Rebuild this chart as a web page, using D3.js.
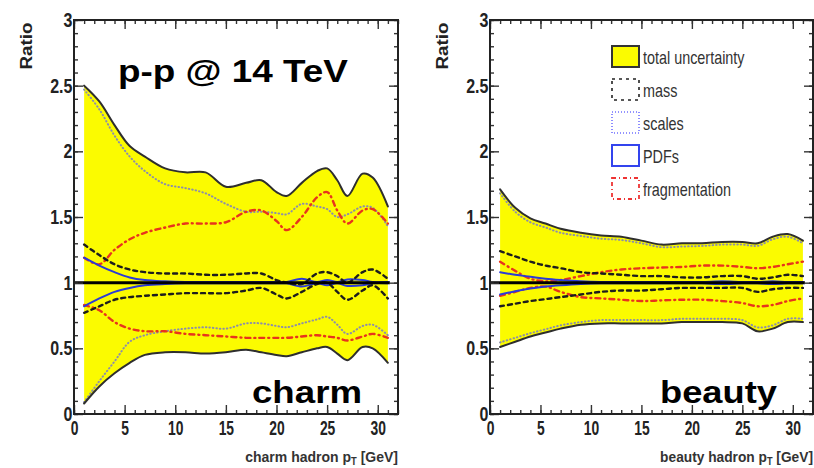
<!DOCTYPE html>
<html><head><meta charset="utf-8">
<script src="https://cdn.jsdelivr.net/npm/d3@7"></script>
<style>
body{margin:0;background:#fff;}
svg{display:block;font-family:"Liberation Sans",Arial,sans-serif;}
</style></head>
<body><svg id="c" width="814" height="468"></svg>
<script>
// ---------------- data ----------------
const charmPt   = [1, 2.5, 4, 5.5, 7, 9, 11, 13, 15, 17, 18.5, 20, 21, 22.5, 24, 25, 26, 27, 28.5, 29.5, 31];
const charmTotHi = [2.50,2.38,2.20,2.04,1.96,1.87,1.84,1.84,1.73,1.76,1.78,1.69,1.66,1.76,1.85,1.87,1.78,1.66,1.83,1.80,1.58];
const charmTotLo = [0.08,0.21,0.31,0.39,0.45,0.47,0.47,0.46,0.47,0.49,0.47,0.45,0.44,0.47,0.50,0.51,0.46,0.41,0.51,0.50,0.39];
const charmScHi  = [2.47,2.32,2.12,1.96,1.85,1.75,1.72,1.68,1.60,1.54,1.54,1.53,1.52,1.60,1.58,1.56,1.50,1.52,1.58,1.57,1.43];
const charmScLo  = [0.09,0.25,0.40,0.55,0.60,0.63,0.65,0.66,0.65,0.69,0.69,0.67,0.66,0.69,0.72,0.74,0.68,0.61,0.67,0.68,0.60];
const charmFrHi  = [1.19,1.14,1.25,1.33,1.38,1.42,1.45,1.45,1.46,1.54,1.55,1.47,1.40,1.50,1.65,1.69,1.55,1.45,1.55,1.56,1.45];
const charmFrLo  = [0.83,0.79,0.70,0.65,0.63,0.63,0.61,0.60,0.59,0.58,0.58,0.58,0.58,0.59,0.60,0.59,0.58,0.56,0.59,0.61,0.58];
const charmMaHi  = [1.29,1.21,1.14,1.10,1.08,1.07,1.07,1.06,1.06,1.07,1.07,1.02,1.00,0.99,1.07,1.08,1.05,1.00,1.08,1.10,1.03];
const charmMaLo  = [0.77,0.82,0.87,0.89,0.90,0.91,0.92,0.92,0.92,0.94,0.96,0.91,0.88,0.93,0.99,1.00,0.93,0.87,0.94,0.98,0.88];
const charmPdHi  = [1.19,1.13,1.08,1.04,1.02,1.01,1.005,1.005,1.005,1.005,1.005,1.005,1.005,1.03,1.005,1.02,1.005,1.025,1.02,1.005,1.005];
const charmPdLo  = [0.82,0.88,0.93,0.96,0.98,0.99,0.995,0.995,0.995,0.995,0.995,0.995,0.995,0.97,0.995,0.98,0.995,0.975,0.98,0.995,0.995];

const beautyPt    = [1, 2.5, 4, 5.5, 7, 9, 11, 13, 15, 17, 19, 21, 23, 25, 26.5, 28, 29.5, 31];
const beautyTotHi = [1.71,1.57,1.49,1.45,1.41,1.38,1.36,1.35,1.32,1.29,1.30,1.30,1.31,1.31,1.30,1.35,1.37,1.32];
const beautyTotLo = [0.51,0.55,0.59,0.62,0.65,0.68,0.69,0.69,0.69,0.69,0.70,0.70,0.70,0.69,0.63,0.65,0.70,0.70];
const beautyScHi  = [1.68,1.54,1.46,1.42,1.38,1.355,1.335,1.325,1.30,1.27,1.275,1.28,1.29,1.29,1.28,1.33,1.35,1.30];
const beautyScLo  = [0.545,0.58,0.615,0.645,0.675,0.70,0.715,0.715,0.715,0.715,0.725,0.725,0.725,0.715,0.66,0.675,0.725,0.725];
const beautyFrHi  = [1.16,1.09,1.03,1.01,1.02,1.05,1.08,1.10,1.11,1.115,1.12,1.13,1.13,1.12,1.11,1.12,1.14,1.16];
const beautyFrLo  = [0.90,0.93,0.96,0.97,0.93,0.89,0.88,0.87,0.86,0.865,0.87,0.87,0.86,0.845,0.82,0.83,0.86,0.88];
const beautyMaHi  = [1.24,1.20,1.16,1.13,1.11,1.08,1.07,1.06,1.05,1.05,1.04,1.04,1.05,1.05,1.03,1.04,1.06,1.05];
const beautyMaLo  = [0.82,0.84,0.86,0.875,0.89,0.91,0.93,0.94,0.94,0.95,0.96,0.96,0.96,0.96,0.93,0.95,0.96,0.96];
const beautyPdHi  = [1.08,1.06,1.045,1.03,1.02,1.01,1.005,1.005,1.005,1.005,1.005,1.005,1.01,1.005,1.005,1.01,1.005,1.005];
const beautyPdLo  = [0.91,0.935,0.955,0.97,0.98,0.99,0.995,0.995,0.995,0.995,0.995,0.995,0.99,0.995,0.995,0.99,0.995,0.995];

const xDomain = [0, 32];
const yDomain = [0, 3];
const xTicks = [0, 5, 10, 15, 20, 25, 30];
const yTicks = [0, 0.5, 1, 1.5, 2, 2.5, 3];
const yTickLabels = ["0", "0.5", "1", "1.5", "2", "2.5", "3"];
const refRatio = 1;
const refLineEnd = 31.2;

const legendLabels = ["total uncertainty", "mass", "scales", "PDFs", "fragmentation"];
const panelLabels = ["charm", "beauty"];
const xTitles = ["charm hadron p", "beauty hadron p"];

// ---------------- drawing ----------------
const svg = d3.select("#c");
const COL = {
  yellow: "#fbfb00", tot: "#2e2e2e", sc: "#8d8fa8", fr: "#e8341c", ma: "#1d1d1d", pd: "#2b3bd6"
};

function fitText(sel, width) {
  const L = sel.node().getComputedTextLength();
  return width / L;
}

function panel(xRange, d, label, xTitle, labelPos) {
  const x = d3.scaleLinear().domain(xDomain).range(xRange);
  const y = d3.scaleLinear().domain(yDomain).range([414, 20]);
  const g = svg.append("g");
  const idx = d.pt.map((p, i) => i);
  const curve = d3.curveCatmullRom.alpha(0.5);

  g.append("path")
    .attr("d", d3.area().x(i => x(d.pt[i])).y0(i => y(d.lo[i])).y1(i => y(d.hi[i])).curve(curve)(idx))
    .attr("fill", COL.yellow);

  const line = arr => d3.line().x((v, i) => x(d.pt[i])).y(v => y(v)).curve(curve)(arr);
  const draw = (arr, color, w, dash) => g.append("path").attr("d", line(arr))
      .attr("fill", "none").attr("stroke", color).attr("stroke-width", w)
      .attr("stroke-dasharray", dash || null).attr("stroke-linecap", "round");

  draw(d.scHi, COL.sc, 2, "0.5,3");
  draw(d.scLo, COL.sc, 2, "0.5,3");
  draw(d.frHi, COL.fr, 2.4, "5,4,1,4");
  draw(d.frLo, COL.fr, 2.4, "5,4,1,4");
  draw(d.pdHi, COL.pd, 2, null);
  draw(d.pdLo, COL.pd, 2, null);
  draw(d.maHi, COL.ma, 2.4, "4,4");
  draw(d.maLo, COL.ma, 2.4, "4,4");
  draw(d.hi, COL.tot, 2, null);
  draw(d.lo, COL.tot, 2, null);

  g.append("line").attr("x1", x(0)).attr("x2", x(refLineEnd))
    .attr("y1", y(refRatio)).attr("y2", y(refRatio))
    .attr("stroke", "#000").attr("stroke-width", 3);

  // axes (ticks inward, ROOT style)
  const styleAx = s => { s.select(".domain").remove(); s.selectAll("line").attr("stroke", "#333").attr("stroke-width", 1.4); };
  const minorX = d3.range(0, 33, 1), minorY = d3.range(0, 3.001, 0.1);
  g.append("g").attr("transform", "translate(0,414)").call(d3.axisBottom(x).tickValues(minorX).tickSize(-4).tickFormat("")).call(styleAx);
  g.append("g").attr("transform", "translate(0,20)").call(d3.axisTop(x).tickValues(minorX).tickSize(-4).tickFormat("")).call(styleAx);
  g.append("g").attr("transform", `translate(${xRange[0]},0)`).call(d3.axisLeft(y).tickValues(minorY).tickSize(-4).tickFormat("")).call(styleAx);
  g.append("g").attr("transform", `translate(${xRange[1]},0)`).call(d3.axisRight(y).tickValues(minorY).tickSize(-4).tickFormat("")).call(styleAx);
  g.append("g").attr("transform", "translate(0,20)").call(d3.axisTop(x).tickValues(xTicks).tickSize(-9).tickFormat("")).call(styleAx);
  g.append("g").attr("transform", `translate(${xRange[1]},0)`).call(d3.axisRight(y).tickValues(yTicks).tickSize(-9).tickFormat("")).call(styleAx);

  const bx = g.append("g").attr("transform", "translate(0,414)")
    .call(d3.axisBottom(x).tickValues(xTicks).tickSize(-9).tickPadding(6)).call(styleAx);
  bx.selectAll("text").attr("font-size", 21).attr("font-weight", "bold").attr("fill", "#222")
    .attr("font-family", "Liberation Sans, Arial, sans-serif").attr("transform", "scale(0.66,1)");
  const ly = g.append("g").attr("transform", `translate(${xRange[0]},0)`)
    .call(d3.axisLeft(y).tickValues(yTicks).tickSize(-9).tickPadding(2)
      .tickFormat((v, i) => yTickLabels[i])).call(styleAx);
  ly.selectAll("text").attr("font-size", 20).attr("font-weight", "bold").attr("fill", "#222")
    .attr("font-family", "Liberation Sans, Arial, sans-serif").attr("transform", "scale(0.8,1)");

  g.append("rect").attr("x", xRange[0]).attr("y", 20).attr("width", xRange[1] - xRange[0]).attr("height", 394)
    .attr("fill", "none").attr("stroke", "#222").attr("stroke-width", 2);

  // Ratio label
  const rx = xRange[0] - 42;
  const rt = g.append("text").attr("text-anchor", "middle").attr("font-size", 16).attr("font-weight", "bold")
    .attr("fill", "#222").text("Ratio");
  rt.attr("transform", `translate(${rx},46) rotate(-90) scale(${fitText(rt, 47)},1)`);

  // x title
  const xt = g.append("text").attr("text-anchor", "end").attr("font-size", 15).attr("font-weight", "bold").attr("fill", "#333");
  xt.append("tspan").text(xTitle);
  xt.append("tspan").attr("font-size", 10).attr("dy", 3).text("T");
  xt.append("tspan").attr("dy", -3).text(" [GeV]");
  xt.attr("transform", `translate(${xRange[1]},462) scale(${fitText(xt, 153)},1)`);

  // big label
  const bl = g.append("text").attr("font-size", 32).attr("font-weight", "bold").attr("fill", "#000").text(label);
  bl.attr("transform", `translate(${labelPos[0]},${labelPos[1]}) scale(${fitText(bl, labelPos[2])},1)`);
  return {x, y, g};
}

panel([74, 398], {pt: charmPt, hi: charmTotHi, lo: charmTotLo, scHi: charmScHi, scLo: charmScLo,
  frHi: charmFrHi, frLo: charmFrLo, maHi: charmMaHi, maLo: charmMaLo, pdHi: charmPdHi, pdLo: charmPdLo},
  panelLabels[0], xTitles[0], [252, 403, 110]);

panel([490, 813], {pt: beautyPt, hi: beautyTotHi, lo: beautyTotLo, scHi: beautyScHi, scLo: beautyScLo,
  frHi: beautyFrHi, frLo: beautyFrLo, maHi: beautyMaHi, maLo: beautyMaLo, pdHi: beautyPdHi, pdLo: beautyPdLo},
  panelLabels[1], xTitles[1], [660, 403, 117]);

// title
const tt = svg.append("text").attr("font-size", 31).attr("font-weight", "bold").attr("fill", "#000").text("p-p @ 14 TeV");
tt.attr("transform", `translate(118,82) scale(${fitText(tt, 230)},1)`);

// legend
const lg = svg.append("g");
const boxStyles = [
  {fill: COL.yellow, stroke: "#333", w: 2, dash: null},
  {fill: "none", stroke: "#222", w: 1.6, dash: "3,4"},
  {fill: "none", stroke: "#7070ff", w: 1.6, dash: "1,2"},
  {fill: "none", stroke: "#3344ee", w: 2, dash: null},
  {fill: "none", stroke: "#ee3333", w: 1.8, dash: "4,3,1,3"}
];
legendLabels.forEach((t, i) => {
  const top = 46 + i * 33;
  const s = boxStyles[i];
  lg.append("rect").attr("x", 612).attr("y", top).attr("width", 27).attr("height", 21)
    .attr("fill", s.fill).attr("stroke", s.stroke).attr("stroke-width", s.w).attr("stroke-dasharray", s.dash);
  const tx = lg.append("text").attr("font-size", 18).attr("fill", "#333").text(t);
  tx.attr("transform", `translate(643,${top + 18}) scale(0.8,1)`);
});
</script></body></html>
